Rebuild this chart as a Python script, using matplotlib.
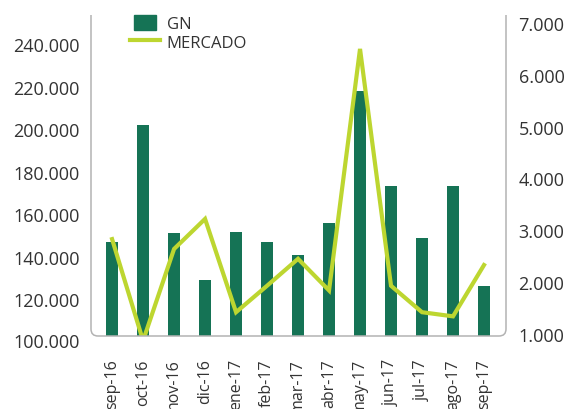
import matplotlib
matplotlib.use('Agg')
import matplotlib.pyplot as plt
from matplotlib.path import Path
from matplotlib.patches import PathPatch, Patch, Rectangle
from matplotlib.lines import Line2D
from matplotlib.legend_handler import HandlerPatch

plt.rcParams['font.family'] = ['Open Sans', 'DejaVu Sans']

# datos
meses = ['sep-16', 'oct-16', 'nov-16', 'dic-16', 'ene-17', 'feb-17', 'mar-17',
         'abr-17', 'may-17', 'jun-17', 'jul-17', 'ago-17', 'sep-17']
gn = [147100, 202100, 151300, 129300, 151700, 147000, 141000,
      155800, 218100, 173100, 148900, 173300, 126400]
mercado = [2830, 870, 2640, 3220, 1420, 1930, 2450,
           1840, 6500, 1930, 1420, 1340, 2330]

izq_ticks = [100000, 120000, 140000, 160000, 180000, 200000, 220000, 240000]
der_ticks = [1000, 2000, 3000, 4000, 5000, 6000, 7000]

verde = '#157355'
lima = '#bdd630'
gris = '#b3b3b3'
texto = '#333333'

W, H = 567, 410
fig = plt.figure(figsize=(W / 100, H / 100), dpi=100)
x0, x1, y0, y1 = 91, 506, 337, 16
ax = fig.add_axes([x0 / W, (H - y0) / H, (x1 - x0) / W, (y0 - y1) / H])
ax2 = ax.twinx()

pos = range(len(meses))
ax.bar(pos, gn, width=0.4, color=verde, bottom=0, zorder=2)
ax2.plot(pos, mercado, color=lima, linewidth=3, solid_joinstyle='miter', zorder=3)

ax.set_xlim(-0.68, len(meses) - 1 + 0.71)
ax.set_ylim(102800, 253600)
ax2.set_ylim(961, 7154)

fmt = lambda v: f'{v:,.0f}'.replace(',', '.')
ax.set_yticks([t for t in izq_ticks if t > 102800])
ax.set_yticklabels([fmt(t) for t in izq_ticks if t > 102800])
ax2.set_yticks(der_ticks)
ax2.set_yticklabels([fmt(t) for t in der_ticks])
# la etiqueta 100.000 queda por debajo del eje
ax.text(-11 / (x1 - x0), 100000, fmt(100000), transform=ax.get_yaxis_transform(),
        ha='right', va='center', fontsize=13, color=texto, clip_on=False)

ax.set_xticks(list(pos))
ax.set_xticklabels(meses, rotation=90, va='top', ha='center')

ax.tick_params(axis='y', length=0, pad=8, labelsize=13, labelcolor=texto)
ax2.tick_params(axis='y', length=0, pad=9, labelsize=13, labelcolor=texto)
ax.tick_params(axis='x', length=0, pad=16, labelsize=11.5, labelcolor=texto)

for a in (ax, ax2):
    for s in a.spines.values():
        s.set_visible(False)

# marco gris con esquinas inferiores redondeadas
r = 7 / 100
X0, X1, Y0, Y1 = x0 / 100, x1 / 100, (H - y0) / 100, (H - y1) / 100
verts = [(X0, Y1), (X0, Y0 + r), (X0, Y0), (X0 + r, Y0), (X1 - r, Y0),
         (X1, Y0), (X1, Y0 + r), (X1, Y1)]
codes = [Path.MOVETO, Path.LINETO, Path.CURVE3, Path.CURVE3, Path.LINETO,
         Path.CURVE3, Path.CURVE3, Path.LINETO]
fig.patches.append(PathPatch(Path(verts, codes), transform=fig.dpi_scale_trans,
                             fill=False, edgecolor=gris, linewidth=1.1))


def cuadro(legend, orig_handle, xdescent, ydescent, width, height, fontsize):
    w = width * 22 / 30
    return Rectangle((-xdescent + (width - w) / 2, -ydescent), w, height)


handles = [Patch(color=verde, label='GN'),
           Line2D([], [], color=lima, linewidth=3, label='MERCADO')]
fig.legend(handles=handles, loc='upper left', bbox_to_anchor=(115 / W, 1 - 1 / H),
           frameon=False, fontsize=12, handlelength=1.8, handleheight=1.0,
           handletextpad=0.4, labelspacing=0.1, labelcolor=texto,
           handler_map={Patch: HandlerPatch(patch_func=cuadro)})

fig.savefig('out.png', dpi=100)
